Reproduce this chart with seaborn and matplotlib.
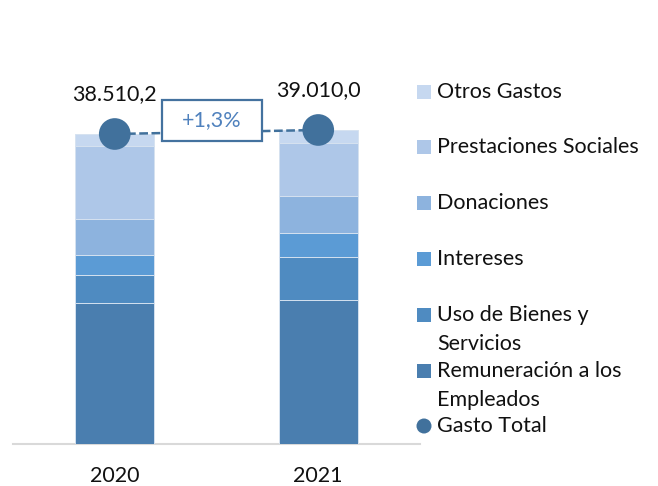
import numpy as np
import pandas as pd
import matplotlib
matplotlib.use("Agg")
import matplotlib.pyplot as plt
from matplotlib.patches import Rectangle, Ellipse
import seaborn as sns

# ---------------- data ----------------
years = ["2020", "2021"]
remuneracion = [17460, 17830]
uso_bienes = [3480, 5350]
intereses = [2560, 2980]
donaciones = [4480, 4680]
prestaciones = [9080, 6590]
otros = [1450, 1580]
gasto_total = [38510.2, 39010.0]

series_names = ["Remuneración a los\nEmpleados", "Uso de Bienes y\nServicios", "Intereses",
                "Donaciones", "Prestaciones Sociales", "Otros Gastos"]
series_vals = [remuneracion, uso_bienes, intereses, donaciones, prestaciones, otros]
series_colors = ["#4A7EAF", "#4F8BC1", "#5B9BD5", "#8DB3DE", "#AEC7E8", "#C6D8F0"]
marker_color = "#41719C"

sns.set_style("white")
plt.rcParams["font.family"] = ["Lato", "DejaVu Sans"]
FS = 15.5

W, H = 658, 486
fig = plt.figure(figsize=(W / 100, H / 100), dpi=100)
ax_top_px, ax_bot_px, ax_left_px, ax_right_px = 40, 443.7, 13, 420
ax = fig.add_axes([ax_left_px / W, 1 - ax_bot_px / H,
                   (ax_right_px - ax_left_px) / W, (ax_bot_px - ax_top_px) / H])

units_per_px = gasto_total[0] / (ax_bot_px - 134)
ymax = units_per_px * (ax_bot_px - ax_top_px)

# stacked bars through seaborn: draw cumulative sums from the top down
cum = np.cumsum(np.array(series_vals), axis=0)
for i in range(len(series_vals) - 1, -1, -1):
    df = pd.DataFrame({"year": years, "value": cum[i]})
    sns.barplot(data=df, x="year", y="value", color=series_colors[i], width=0.388,
                edgecolor="#D6E2F0", linewidth=0.7, saturation=1, ax=ax, zorder=2)

xpos = np.arange(len(years))
# dashed connector
ax.plot(xpos, gasto_total, ls=(0, (3.5, 1.4)), color=marker_color, lw=1.8, zorder=3)
# total markers
sns.scatterplot(x=xpos, y=gasto_total, s=520, color=marker_color, edgecolor="none",
                ax=ax, zorder=4, legend=False)


def fmt_es(v):
    s = f"{v:,.1f}"
    return s.replace(",", "X").replace(".", ",").replace("X", ".")


for x, v in zip(xpos, gasto_total):
    ax.annotate(fmt_es(v), (x, v), xytext=(0, 29), textcoords="offset points",
                ha="center", va="center", fontsize=FS, color="#111111", zorder=6)

# percentage change box
pct = (gasto_total[1] / gasto_total[0] - 1) * 100
bx = 0.478
by = np.mean(gasto_total) + 1430
bw = 100 / (ax_right_px - ax_left_px) * 2
bh = 41 * units_per_px
ax.add_patch(Rectangle((bx - bw / 2, by - bh / 2), bw, bh, facecolor="white",
                       edgecolor="#44729F", lw=1.6, zorder=5))
ax.text(bx, by, f"{pct:+.1f}%".replace(".", ","), ha="center", va="center",
        fontsize=FS, color="#4F81BD", zorder=6)

ax.set_xlim(-0.5, 1.5)
ax.set_ylim(0, ymax)
ax.set_yticks([])
ax.set_ylabel("")
ax.set_xlabel("")
ax.set_xticks(xpos)
ax.set_xticklabels(years, fontsize=FS, color="#111111")
ax.tick_params(axis="x", length=0, pad=16)
for sp in ["top", "left", "right"]:
    ax.spines[sp].set_visible(False)
ax.spines["bottom"].set_color("#D9D9D9")
ax.spines["bottom"].set_linewidth(1.5)
ax.spines["bottom"].set_zorder(1)

# legend drawn manually
leg_items = [
    ("Otros Gastos", series_colors[5], "sq", [92]),
    ("Prestaciones Sociales", series_colors[4], "sq", [147]),
    ("Donaciones", series_colors[3], "sq", [203]),
    ("Intereses", series_colors[2], "sq", [259]),
    (series_names[1], series_colors[1], "sq", [315, 344]),
    (series_names[0], series_colors[0], "sq", [371, 400]),
    ("Gasto Total", marker_color, "circ", [426]),
]
sq = 14
for label, col, kind, ys in leg_items:
    y0 = ys[0]
    if kind == "sq":
        fig.add_artist(Rectangle((417 / W, 1 - (y0 + sq / 2) / H), sq / W, sq / H,
                                 transform=fig.transFigure, facecolor=col, edgecolor="none"))
    else:
        fig.add_artist(Ellipse((424 / W, 1 - y0 / H), 15 / W, 15 / H,
                               transform=fig.transFigure, facecolor=col, edgecolor="none"))
    for line, yy in zip(label.split("\n"), ys):
        fig.text(437 / W, 1 - yy / H, line, ha="left", va="center", fontsize=FS,
                 color="#111111")

fig.savefig("out.png", dpi=100)
